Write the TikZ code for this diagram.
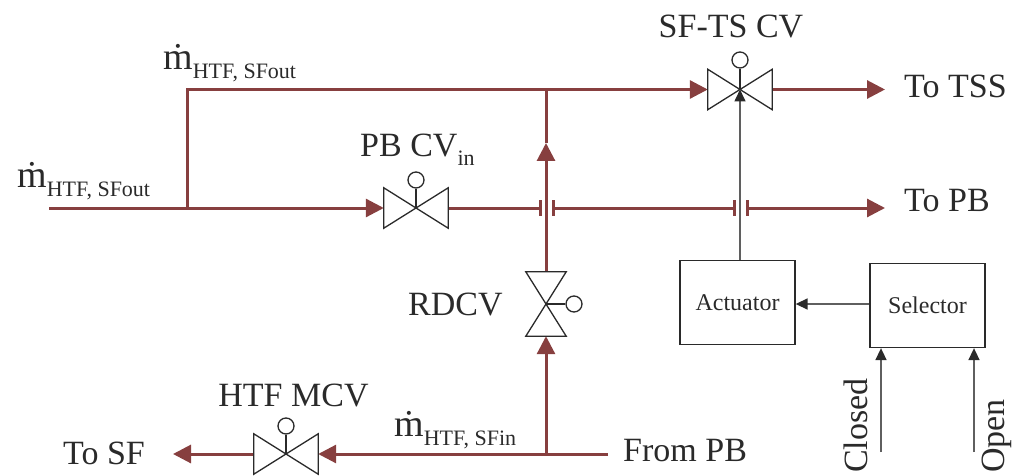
\documentclass[tikz,border=0pt]{standalone}
\usepackage{fontspec}
\setmainfont{Liberation Serif}
\usetikzlibrary{arrows.meta,calc}
\definecolor{pipe}{HTML}{873F3F}
\definecolor{ink}{HTML}{2A2A2A}
\newcommand{\bigtxt}{\fontsize{34}{38}\selectfont}
\newcommand{\boxtxt}{\fontsize{24}{28}\selectfont}
\newcommand{\subtxt}{\fontsize{22}{24}\selectfont}
\newcommand{\mdotlabel}[1]{{\fontsize{38}{40}\selectfont \.{m}}{\subtxt\raisebox{-9pt}{#1}}}
\tikzset{
  x=1pt,y=-1pt,
  txt/.style={inner sep=0pt,text=ink,font=\bigtxt},
  lefttxt/.style={txt,anchor=west},
  pipeline/.style={draw=pipe,line width=3pt},
  pipearrow/.style={pipeline,-{Triangle[length=18pt,width=18pt]}},
  sigline/.style={draw=ink!75,line width=1.6pt},
  sigarrow/.style={sigline,-{Triangle[length=12pt,width=11pt,color=ink]}},
  valvebox/.style={inner sep=0pt,minimum width=64pt,minimum height=40pt},
  valvevert/.style={inner sep=0pt,minimum width=40pt,minimum height=64pt},
  bulb/.style={circle,draw=ink,line width=1.3pt,minimum size=16pt,inner sep=0pt},
  valveline/.style={draw=ink,line width=1.3pt,fill=white},
  ctrlbox/.style={draw=ink,line width=1.3pt,inner sep=0pt,text=ink,font=\boxtxt},
  tick/.style={draw=pipe,line width=3pt},
}
\begin{document}
\begin{tikzpicture}
\useasboundingbox (0,0) rectangle (1023,476);

% valves
\node[valvebox] (sfts) at (740,89.5) {};
\node[valvebox] (pbcv) at (416,208) {};
\node[valvebox] (mcv) at (286,454) {};
\node[valvevert] (rdcv) at (546,304) {};
\node[bulb] (sftsb) at (740,60) {};
\node[bulb] (pbcvb) at (416,180) {};
\node[bulb] (mcvb) at (286,426) {};
\node[bulb] (rdcvb) at (574,304) {};

% junctions and free ends
\coordinate (inl) at (49,208);
\coordinate (j1) at (187,208);
\coordinate (j2) at (187,89.5);
\coordinate (j3) at (546,89.5);
\coordinate (j4) at (546,143);
\coordinate (t1) at (540,208);
\coordinate (t2) at (553,208);
\coordinate (t3) at (734,208);
\coordinate (t4) at (747,208);
\coordinate (totss) at (885,89.5);
\coordinate (topb) at (885,208);
\coordinate (fromr) at (608,454);
\coordinate (j5) at (546,454);
\coordinate (tosf) at (173,454);
\coordinate (cin) at (881,452);
\coordinate (oin) at (974,452);

% control boxes
\node[ctrlbox,minimum width=115pt,minimum height=84pt] (act) at (737.5,302.5) {Actuator};
\node[ctrlbox,minimum width=115pt,minimum height=84pt] (sel) at (927.5,305.5) {Selector};

% pipes
\draw[pipearrow] (inl) -- (pbcv.west);
\draw[pipeline,line join=miter] (j1) -- (j2) -- (j3);
\draw[pipearrow] (j3) -- (sfts.west);
\draw[pipearrow] (sfts.east) -- (totss);
\draw[pipeline] (pbcv.east) -- (t1);
\draw[pipeline] (t2) -- (t3);
\draw[pipearrow] (t4) -- (topb);
\draw[tick] ($(t1)+(0,-8)$) -- ($(t1)+(0,8)$);
\draw[tick] ($(t2)+(0,-8)$) -- ($(t2)+(0,8)$);
\draw[tick] ($(t3)+(0,-8)$) -- ($(t3)+(0,8)$);
\draw[tick] ($(t4)+(0,-8)$) -- ($(t4)+(0,8)$);
\draw[pipearrow] (rdcv.north) -- (j4);
\draw[pipeline] (j4) -- (j3);
\draw[pipearrow] (j5) -- (rdcv.south);
\draw[pipearrow] (fromr) -- (mcv.east);
\draw[pipearrow] (mcv.west) -- (tosf);

% valve bodies
\draw[valveline] (sfts.south west) -- (sfts.north east) -- (sfts.south east) -- (sfts.north west) -- cycle;
\draw[valveline] (pbcv.south west) -- (pbcv.north east) -- (pbcv.south east) -- (pbcv.north west) -- cycle;
\draw[valveline] (mcv.south west) -- (mcv.north east) -- (mcv.south east) -- (mcv.north west) -- cycle;
\draw[valveline] (rdcv.north west) -- (rdcv.north east) -- (rdcv.south west) -- (rdcv.south east) -- cycle;
\draw[valveline] (sftsb) -- (sfts.center);
\draw[valveline] (pbcvb) -- (pbcv.center);
\draw[valveline] (mcvb) -- (mcv.center);
\draw[valveline] (rdcvb) -- (rdcv.center);

% signals
\draw[sigarrow] (act.north -| sfts.center) -- (sfts.center);
\draw[sigarrow] (sel.west |- 0,304) -- (act.east |- 0,304);
\draw[sigarrow] (cin) -- (cin |- sel.south);
\draw[sigarrow] (oin) -- (oin |- sel.south);

% labels
\node[txt] (lsf) at (731,27) {SF-TS CV};
\node[lefttxt] (lpb) at (360,150) {PB CV{\subtxt\raisebox{-9pt}{in}}};
\node[lefttxt] (lrd) at (408,305) {RDCV};
\node[txt] (lmcv) at (293.5,395) {HTF MCV};
\node[lefttxt] (ltss) at (904,86) {To TSS};
\node[lefttxt] (ltpb) at (904,201) {To PB};
\node[lefttxt] (ltsf) at (63,453) {To SF};
\node[lefttxt] (lfpb) at (623,451) {From PB};
\node[txt,rotate=90,anchor=west] (lcl) at (856,473) {Closed};
\node[txt,rotate=90,anchor=west] (lop) at (997,473) {Open};
\node[lefttxt] (m1) at (163,63) {\mdotlabel{HTF, SFout}};
\node[lefttxt] (m2) at (17,181) {\mdotlabel{HTF, SFout}};
\node[lefttxt] (m3) at (394,430) {\mdotlabel{HTF, SFin}};
\end{tikzpicture}
\end{document}
